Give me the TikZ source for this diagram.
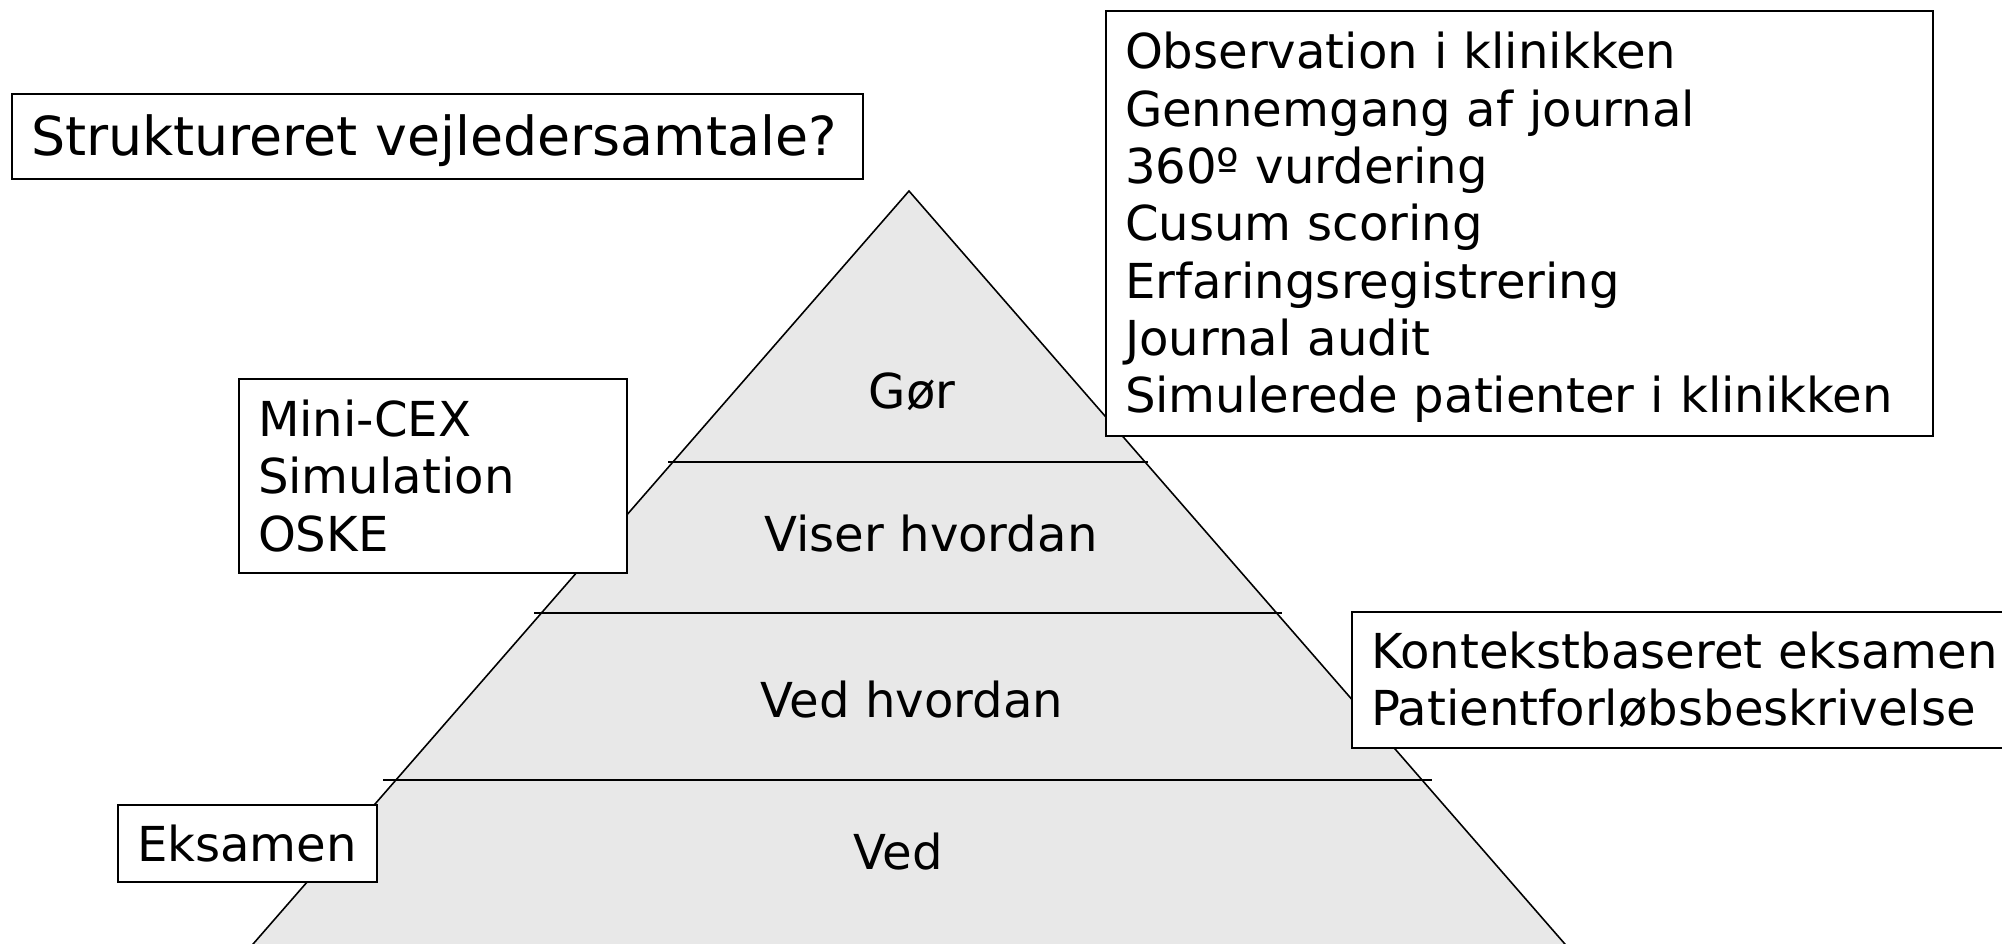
\documentclass[tikz,border=0pt]{standalone}
\usepackage{fontspec}
\setmainfont{DejaVu Sans}
\usetikzlibrary{positioning}

% hoejere foerste linje, saa teksten flytter lidt ned
\newcommand{\loft}[1]{\rule{0pt}{#1}}

\tikzset{
  tekst/.style={font=\fontsize{13.7}{16.3}\selectfont},
  boks/.style={tekst, draw=black, line width=0.57pt, fill=white, anchor=north west,
    align=left, inner xsep=0.19cm, inner ysep=0pt},
}

\begin{document}
\begin{tikzpicture}
			%%%%% START %%%%%
			\useasboundingbox (0, 0) rectangle (20.02, 9.44);
			\clip (0, 0) rectangle (20.02, 9.44);
			
			% pyramiden
			\fill[color=black!9] (9.09, 7.53) -- (1.66, -1) -- (16.52, -1) -- cycle;
			\draw[line width=0.45pt] (1.66, -1) -- (9.09, 7.53) -- (16.52, -1);
			
			\draw[line width=0.57pt] (6.68, 4.82) -- (11.48, 4.82);
			\draw[line width=0.57pt] (5.34, 3.31) -- (12.82, 3.31);
			\draw[line width=0.57pt] (3.83, 1.64) -- (14.32, 1.64);
			
			\node[tekst] (gor) at (9.12, 5.52) {Gør};
			\node[tekst] (viser) at (9.31, 4.10) {Viser hvordan};
			\node[tekst] (vedhv) at (9.12, 2.44) {Ved hvordan};
			\node[tekst] (ved) at (8.98, 0.92) {Ved};
			
			% kasserne
			\node[boks, font=\fontsize{15.3}{18}\selectfont, minimum width=8.51cm, minimum height=0.85cm, text width=8.13cm]
				(struktur) at (0.11, 8.51) {\loft{13.9pt}Struktureret vejledersamtale?};
			\node[boks, minimum width=3.88cm, minimum height=1.94cm, text width=3.50cm]
				(minicex) at (2.38, 5.66) {Mini-CEX\\Simulation\\OSKE};
			\node[boks, minimum width=8.27cm, minimum height=4.25cm, text width=7.89cm]
				(obs) at (11.05, 9.34) {\loft{12.7pt}Observation i klinikken\\Gennemgang af journal\\360º vurdering\\Cusum scoring\\Erfaringsregistrering\\Journal audit\\Simulerede patienter i klinikken};
			\node[boks, minimum width=7.00cm, minimum height=1.36cm, text width=6.62cm]
				(kontekst) at (13.51, 3.33) {Kontekstbaseret eksamen\\Patientforløbsbeskrivelse};
			\node[boks, minimum width=2.59cm, minimum height=0.77cm, text width=2.21cm]
				(eksamen) at (1.17, 1.40) {Eksamen};
			
			%%%%% END %%%%%
\end{tikzpicture}
\end{document}
